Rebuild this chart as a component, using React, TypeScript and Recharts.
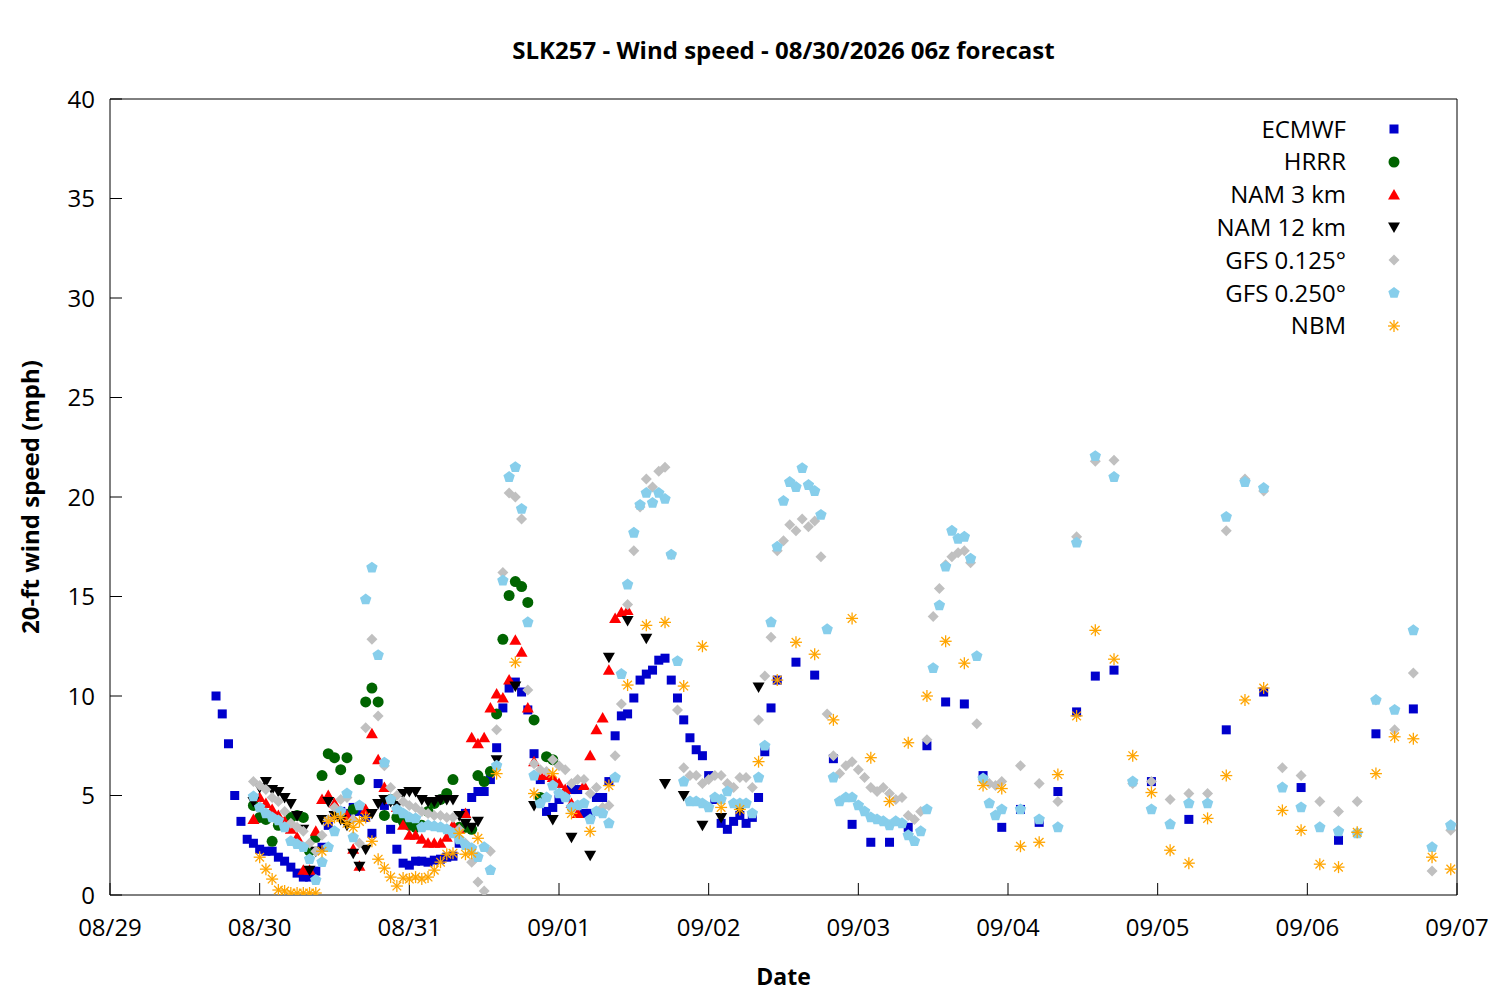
import { Label, Scatter, ScatterChart, XAxis, YAxis } from "recharts";

// x = hours after 08/29 00 (axis runs 08/29 .. 09/07)
const dateLabels = ["08/29", "08/30", "08/31", "09/01", "09/02", "09/03", "09/04", "09/05", "09/06", "09/07"];
const dateTicks = [0, 24, 48, 72, 96, 120, 144, 168, 192, 216];
const speedTicks = [0, 5, 10, 15, 20, 25, 30, 35, 40];

const ecmwfHours = [
  17, 18, 19, 20, 21, 22, 23, 24, 25, 26, 27, 28, 29, 30, 31, 32, 33, 34, 35, 36, 37, 38, 39, 40, 41, 42, 43, 44, 45, 46,
  47, 48, 49, 50, 51, 52, 53, 54, 55, 56, 57, 58, 59, 60, 61, 62, 63, 64, 65, 66, 67, 68, 69, 70, 71, 72, 73, 74, 75, 76,
  77, 78, 79, 80, 81, 82, 83, 84, 85, 86, 87, 88, 89, 90, 91, 92, 93, 94, 95, 96, 97, 98, 99, 100, 101, 102, 103, 104, 105, 106, 107,
  110, 113, 116, 119, 122, 125, 128, 131, 134, 137, 140, 143, 146, 149, 152, 155, 158, 161,
  167, 173, 179, 185, 191, 197, 203, 209,
];
const ecmwfSpeed = [
  10.0, 9.1, 7.6, 5.0, 3.7, 2.8, 2.6, 2.3, 2.2, 2.2,
  1.9, 1.7, 1.4, 1.1, 0.9, 0.9, 1.2, 2.4, 3.5, 4.0,
  4.2, 4.1, 4.4, 4.2, 3.9, 3.1, 5.6, 4.5, 3.3, 2.3,
  1.6, 1.5, 1.7, 1.7, 1.65, 1.75, 1.8, 1.9, 1.95, 2.6,
  4.1, 4.9, 5.2, 5.2, 5.8, 7.4, 9.4, 10.4, 10.7, 10.2,
  9.3, 7.1, 5.8, 4.2, 4.4, 4.8, 4.9, 5.3, 5.3, 4.1,
  4.1, 4.9, 4.9, 5.7, 8.0, 9.0, 9.1, 9.9, 10.8, 11.1,
  11.3, 11.8, 11.9, 10.8, 9.9, 8.8, 7.9, 7.3, 7.0, 6.0,
  4.8, 3.6, 3.3, 3.7, 4.0, 3.6, 3.9, 4.9, 7.2, 9.4, 10.8,
  11.7, 11.05, 6.85, 3.55, 2.65, 2.65, 3.4, 7.5, 9.7, 9.6, 6.0, 3.4, 4.3, 3.65, 5.2, 9.2, 11.0, 11.3,
  5.7, 3.8, 8.3, 10.2, 5.4, 2.75, 8.1, 9.35,
];

const hrrrHours = [
  23, 24, 25, 26, 27, 28, 29, 30, 31, 32, 33, 34, 35, 36, 37, 38, 39, 40, 41, 42, 43, 44, 45, 46, 47,
  48, 49, 50, 51, 52, 53, 54, 55, 56, 57, 58, 59, 60, 61, 62, 63, 64, 65, 66, 67, 68, 69, 70, 71,
];
const hrrrSpeed = [
  4.5, 3.9, 3.8, 2.7, 3.5, 3.6, 3.9, 4.0, 3.9, 2.2,
  2.9, 6.0, 7.1, 6.9, 6.3, 6.9, 4.3, 5.8, 9.7, 10.4,
  9.7, 4.0, 4.8, 3.9, 3.7, 3.5, 3.4, 3.5, 4.2, 4.6,
  4.8, 5.1, 5.8, 3.4, 3.4, 3.3, 6.0, 5.7, 6.2, 9.1,
  12.85, 15.05, 15.75, 15.5, 14.7, 8.8, 4.9, 6.95, 6.8,
];

const nam3Hours = [
  23, 24, 25, 26, 27, 28, 29, 30, 31, 32, 33, 34, 35, 36, 37, 38, 39, 40, 41, 42, 43, 44, 45, 46, 47, 48, 49, 50, 51, 52,
  53, 54, 55, 56, 57, 58, 59, 60, 61, 62, 63, 64, 65, 66, 67, 68, 69, 70, 71, 72, 73, 74, 75, 76, 77, 78, 79, 80, 81, 82, 83,
];
const nam3Speed = [
  3.8, 4.9, 4.6, 4.3, 4.0, 3.7, 3.3, 2.9, 1.25, 1.25,
  3.2, 4.8, 5.0, 4.6, 4.2, 4.0, 2.3, 1.45, 4.3, 8.1,
  6.8, 5.4, 4.8, 4.4, 3.5, 3.0, 3.0, 2.8, 2.6, 2.6,
  2.6, 2.9, 3.5, 3.3, 4.1, 7.9, 7.6, 7.9, 9.4, 10.1,
  9.9, 10.8, 12.8, 12.2, 9.4, 6.7, 6.0, 6.0, 5.9, 5.6,
  5.3, 4.6, 4.1, 5.5, 7.0, 8.3, 8.9, 11.3, 13.9, 14.2, 14.3,
];

const nam12Hours = [
  23, 24, 25, 26, 27, 28, 29, 30, 31, 32, 33, 34, 35, 36, 37, 38, 39, 40, 41, 42, 43, 44, 45, 46, 47, 48, 49, 50, 51, 52,
  53, 54, 55, 56, 57, 58, 59,
  62, 65, 68, 71, 74, 77, 80, 83, 86, 89, 92, 95, 98, 101, 104,
];
const nam12Speed = [
  4.7, 5.4, 5.7, 5.3, 5.2, 4.9, 4.6, 4.0, 3.3, 1.25,
  2.2, 3.8, 4.7, 4.0, 3.8, 3.5, 2.1, 1.45, 2.3, 4.1,
  4.6, 4.8, 4.7, 4.5, 5.1, 5.2, 5.2, 4.8, 4.7, 4.7,
  4.8, 4.8, 4.8, 4.0, 3.6, 3.4, 3.7,
  6.8, 10.5, 4.5, 3.8, 2.9, 2.0, 11.95, 13.8, 12.9, 5.6, 5.0, 3.5, 3.9, 4.3, 10.45,
];

const gfsHours = [
  23, 24, 25, 26, 27, 28, 29, 30, 31, 32, 33, 34, 35, 36, 37, 38, 39, 40, 41, 42, 43, 44, 45, 46, 47, 48, 49, 50, 51, 52,
  53, 54, 55, 56, 57, 58, 59, 60, 61, 62, 63, 64, 65, 66, 67, 68, 69, 70, 71, 72, 73, 74, 75, 76, 77, 78, 79, 80, 81, 82,
  83, 84, 85, 86, 87, 88, 89, 90, 91, 92, 93, 94, 95, 96, 97, 98, 99, 100, 101, 102, 103, 104, 105, 106, 107, 108, 109, 110, 111, 112,
  113, 114, 115, 116, 117, 118, 119, 120, 121, 122, 123, 124, 125, 126, 127, 128, 129, 130, 131, 132, 133, 134, 135, 136, 137, 138, 139, 140, 141, 142, 143,
  146, 149, 152, 155, 158, 161, 164, 167, 170, 173, 176, 179, 182, 185, 188, 191, 194, 197, 200, 203, 206, 209, 212, 215,
];
const gfs0125Speed = [
  5.7, 5.5, 5.3, 4.9, 4.7, 4.2, 3.6, 3.4, 3.2, 2.6,
  2.2, 3.0, 3.8, 4.4, 4.8, 4.9, 3.8, 2.6, 8.4, 12.85,
  9.0, 6.5, 5.4, 5.0, 4.7, 4.5, 4.4, 4.2, 4.1, 4.0,
  4.0, 3.9, 3.9, 3.3, 2.6, 1.65, 0.65, 0.2, 2.2, 8.3,
  16.2, 20.2, 20.0, 18.9, 10.3, 6.6, 6.3, 6.2, 6.8, 6.5,
  6.3, 5.6, 5.8, 5.8, 5.1, 5.4, 4.4, 4.5, 7.0, 9.6,
  14.6, 17.3, 19.5, 20.9, 20.5, 21.3, 21.5, 17.1, 9.3, 6.4,
  6.0, 6.0, 5.6, 5.8, 6.0, 6.0, 5.6, 5.4, 5.9, 5.9,
  5.4, 8.8, 11.0, 12.95, 17.3, 17.8, 18.6, 18.3, 18.9, 18.5,
  18.8, 17.0, 9.1, 7.0, 6.1, 6.5, 6.7, 6.3, 5.9, 5.4,
  5.2, 5.4, 5.1, 4.8, 4.9, 4.0, 3.8, 4.2, 7.8, 14.0,
  15.4, 16.6, 17.0, 17.2, 17.3, 16.7, 8.6, 5.8, 5.6, 5.5, 5.7,
  6.5, 5.6, 4.7, 18.0, 21.8, 21.85, 5.6, 5.7, 4.8, 5.1, 5.1, 18.3, 20.9, 20.3, 6.4, 6.0, 4.7, 4.2, 4.7, 9.8, 8.3, 11.15, 1.2, 3.25,
];
const gfs0250Speed = [
  4.95, 4.4, 4.1, 3.9, 3.75, 3.4, 2.7, 2.55, 2.4, 1.8,
  0.75, 1.65, 2.4, 3.2, 4.2, 5.1, 2.9, 4.5, 14.85, 16.45,
  12.05, 6.65, 4.8, 4.3, 4.1, 3.9, 3.85, 3.4, 3.5, 3.45,
  3.4, 3.3, 3.1, 2.8, 2.5, 2.35, 1.9, 2.4, 1.25, 6.5,
  15.8, 21.0, 21.5, 19.4, 13.7, 6.0, 4.6, 4.9, 5.5, 5.1,
  4.9, 4.4, 4.5, 4.6, 3.8, 4.2, 4.1, 3.6, 5.9, 11.1,
  15.6, 18.2, 19.6, 20.2, 19.7, 20.2, 19.9, 17.1, 11.75, 5.7,
  4.7, 4.7, 4.6, 4.4, 4.9, 4.8, 5.2, 4.6, 4.6, 4.6,
  4.1, 5.9, 7.5, 13.7, 17.5, 19.8, 20.75, 20.5, 21.45, 20.6,
  20.3, 19.1, 13.35, 5.9, 4.7, 4.9, 4.9, 4.5, 4.2, 3.9,
  3.8, 3.7, 3.5, 3.7, 3.6, 3.0, 2.7, 3.2, 4.3, 11.4,
  14.55, 16.5, 18.3, 17.9, 18.0, 16.9, 12.0, 5.85, 4.6, 4.0, 4.3,
  4.3, 3.8, 3.4, 17.7, 22.05, 21.0, 5.7, 4.3, 3.55, 4.6, 4.6, 19.0, 20.75, 20.45, 5.4, 4.4, 3.4, 3.2, 3.1, 9.8, 9.3, 13.3, 2.4, 3.5,
];

const nbmHours = [
  24, 25, 26, 27, 28, 29, 30, 31, 32, 33, 34, 35, 36, 37, 38, 39, 40, 41, 42, 43, 44, 45, 46, 47, 48, 49, 50, 51, 52, 53,
  54, 55, 56, 57, 58, 59,
  62, 65, 68, 71, 74, 77, 80, 83, 86, 89, 92, 95, 98, 101, 104, 107, 110, 113, 116, 119, 122, 125, 128, 131, 134, 137,
  140, 143, 146, 149, 152, 155, 158, 161, 164, 167, 170, 173, 176, 179, 182, 185, 188, 191, 194, 197, 200, 203, 206, 209, 212, 215,
];
const nbmSpeed = [
  1.9, 1.3, 0.8, 0.25, 0.2, 0.1, 0.1, 0.1, 0.1, 0.1,
  2.2, 3.7, 3.9, 3.9, 3.6, 3.4, 3.7, 3.9, 2.7, 1.8,
  1.35, 0.9, 0.45, 0.85, 0.8, 0.9, 0.8, 0.9, 1.25, 1.65,
  2.05, 2.1, 3.1, 2.05, 2.1, 2.85,
  6.1, 11.7, 5.1, 6.1, 4.1, 3.2, 5.5, 10.55, 13.55, 13.7, 10.5, 12.5, 4.4, 4.3, 6.7, 10.8, 12.7, 12.1, 8.8, 13.9, 6.9, 4.7, 7.65, 10.0, 12.75, 11.65,
  5.5, 5.35, 2.45, 2.65, 6.05, 9.0, 13.3, 11.85, 7.0, 5.15, 2.25, 1.6, 3.85, 6.0, 9.8, 10.4, 4.25, 3.25, 1.55, 1.4, 3.15, 6.1, 7.95, 7.85, 1.9, 1.3,
];

const toPoints = (hours: number[], speed: number[]) => hours.map((h, i) => ({ h, v: speed[i] }));

const BLUE = "#0000cc";
const GREEN = "#006400";
const RED = "#ff0000";
const BLACK = "#000000";
const GRAY = "#c0c0c0";
const SKY = "#87ceeb";
const ORANGE = "#ffa500";

function SquareMark({ cx, cy }: any) {
  return <rect x={cx - 4.5} y={cy - 4.5} width={9} height={9} fill={BLUE} />;
}
function CircleMark({ cx, cy }: any) {
  return <circle cx={cx} cy={cy} r={5.5} fill={GREEN} />;
}
function UpMark({ cx, cy }: any) {
  return <polygon points={`${cx},${cy - 6} ${cx + 6},${cy + 4.5} ${cx - 6},${cy + 4.5}`} fill={RED} />;
}
function DownMark({ cx, cy }: any) {
  return <polygon points={`${cx},${cy + 6} ${cx + 6},${cy - 4.5} ${cx - 6},${cy - 4.5}`} fill={BLACK} />;
}
function DiamondMark({ cx, cy }: any) {
  return <polygon points={`${cx},${cy - 5.5} ${cx + 5.5},${cy} ${cx},${cy + 5.5} ${cx - 5.5},${cy}`} fill={GRAY} />;
}
function PentagonMark({ cx, cy }: any) {
  const pts = [0, 1, 2, 3, 4]
    .map((k) => {
      const a = ((-90 + k * 72) * Math.PI) / 180;
      return `${cx + 6 * Math.cos(a)},${cy + 6 * Math.sin(a)}`;
    })
    .join(" ");
  return <polygon points={pts} fill={SKY} />;
}
function StarMark({ cx, cy }: any) {
  const r = 6;
  const d = 4.3;
  return (
    <g stroke={ORANGE} strokeWidth={1.3}>
      <line x1={cx - r} y1={cy} x2={cx + r} y2={cy} />
      <line x1={cx} y1={cy - r} x2={cx} y2={cy + r} />
      <line x1={cx - d} y1={cy - d} x2={cx + d} y2={cy + d} />
      <line x1={cx - d} y1={cy + d} x2={cx + d} y2={cy - d} />
    </g>
  );
}

const legendItems = [
  { name: "ECMWF", Mark: SquareMark },
  { name: "HRRR", Mark: CircleMark },
  { name: "NAM 3 km", Mark: UpMark },
  { name: "NAM 12 km", Mark: DownMark },
  { name: "GFS 0.125°", Mark: DiamondMark },
  { name: "GFS 0.250°", Mark: PentagonMark },
  { name: "NBM", Mark: StarMark },
];

const tickStyle = { fontSize: 24, fill: "#000" };

export default function App() {
  return (
    <div style={{ position: "absolute", left: 0, top: 0, width: 1500, height: 1000, fontFamily: "'Open Sans', sans-serif", background: "#fff" }}>
      <div style={{ position: "absolute", left: 110, width: 1347, top: 33, lineHeight: "34px", textAlign: "center", fontSize: 24, fontWeight: 700, color: "#000" }}>
        SLK257 - Wind speed - 08/30/2026 06z forecast
      </div>
      <ScatterChart width={1500} height={1000} margin={{ top: 98, right: 42, bottom: 15, left: 50 }}>
        <XAxis
          xAxisId="top"
          orientation="top"
          type="number"
          dataKey="h"
          domain={[0, 216]}
          ticks={dateTicks}
          height={1}
          tick={false}
          tickSize={-12}
          stroke="#000"
          allowDataOverflow
        />
        <YAxis
          yAxisId="right"
          orientation="right"
          type="number"
          dataKey="v"
          domain={[0, 40]}
          ticks={speedTicks}
          width={1}
          tick={false}
          tickSize={-12}
          stroke="#000"
          allowDataOverflow
        />
        <XAxis
          type="number"
          dataKey="h"
          domain={[0, 216]}
          ticks={dateTicks}
          tickFormatter={(v: number) => dateLabels[Math.round(v / 24)]}
          height={90}
          tickSize={-12}
          tickMargin={36}
          tick={tickStyle}
          stroke="#000"
          allowDataOverflow
        >
          <Label value="Date" position="insideBottom" offset={0} style={{ fontSize: 23, fontWeight: 700, fill: "#000" }} />
        </XAxis>
        <YAxis
          type="number"
          dataKey="v"
          domain={[0, 40]}
          ticks={speedTicks}
          width={60}
          tickSize={-12}
          tickMargin={27}
          tick={tickStyle}
          stroke="#000"
          allowDataOverflow
        >
          <Label
            value="20-ft wind speed (mph)"
            angle={-90}
            position="insideLeft"
            offset={-20}
            style={{ textAnchor: "middle", fontSize: 24, fontWeight: 700, fill: "#000" }}
          />
        </YAxis>
        <Scatter name="ECMWF" data={toPoints(ecmwfHours, ecmwfSpeed)} shape={SquareMark} isAnimationActive={false} />
        <Scatter name="HRRR" data={toPoints(hrrrHours, hrrrSpeed)} shape={CircleMark} isAnimationActive={false} />
        <Scatter name="NAM 3 km" data={toPoints(nam3Hours, nam3Speed)} shape={UpMark} isAnimationActive={false} />
        <Scatter name="NAM 12 km" data={toPoints(nam12Hours, nam12Speed)} shape={DownMark} isAnimationActive={false} />
        <Scatter name="GFS 0.125°" data={toPoints(gfsHours, gfs0125Speed)} shape={DiamondMark} isAnimationActive={false} />
        <Scatter name="GFS 0.250°" data={toPoints(gfsHours, gfs0250Speed)} shape={PentagonMark} isAnimationActive={false} />
        <Scatter name="NBM" data={toPoints(nbmHours, nbmSpeed)} shape={StarMark} isAnimationActive={false} />
      </ScatterChart>
      {legendItems.map((item, i) => (
        <div key={item.name} style={{ position: "absolute", top: 112.6 + i * 32.8, left: 0, width: 1500, height: 32.8 }}>
          <div style={{ position: "absolute", right: 154, lineHeight: "32.8px", fontSize: 24, color: "#000", whiteSpace: "nowrap" }}>{item.name}</div>
          <svg style={{ position: "absolute", left: 1384, top: 6.4 }} width={20} height={20}>
            <item.Mark cx={10} cy={10} />
          </svg>
        </div>
      ))}
    </div>
  );
}
